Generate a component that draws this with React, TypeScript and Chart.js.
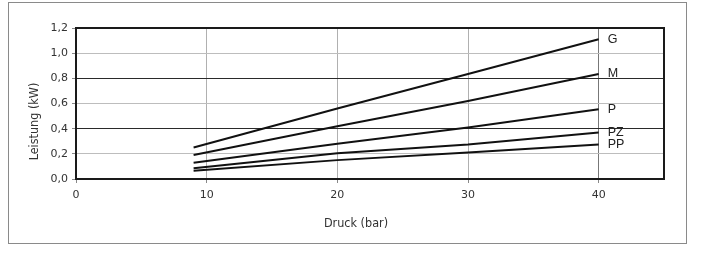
import React, { useEffect, useRef } from "react";
import { Chart, registerables } from "chart.js";

Chart.register(...registerables);

const pressures = [9, 20, 30, 40];
const seriesNames = ["G", "M", "P", "PZ", "PP"];
const seriesG = [0.25, 0.56, 0.835, 1.11];
const seriesM = [0.19, 0.42, 0.62, 0.835];
const seriesP = [0.13, 0.28, 0.41, 0.555];
const seriesPZ = [0.085, 0.205, 0.275, 0.37];
const seriesPP = [0.065, 0.15, 0.21, 0.275];
const xTitle = "Druck (bar)";
const yTitle = "Leistung (kW)";

const tickFont = "'DejaVu Sans', 'Liberation Sans', sans-serif";
const titleFont = "'Liberation Sans Narrow', 'DejaVu Sans Condensed', 'Roboto', sans-serif";

const decorPlugin = {
  id: "decor",
  afterDraw(chart: any) {
    const { ctx, chartArea } = chart;
    const { left, right, top, bottom } = chartArea;
    ctx.save();
    // plot frame
    ctx.strokeStyle = "#1a1a1a";
    ctx.lineWidth = 2;
    ctx.strokeRect(left, top, right - left, bottom - top);
    // series labels
    ctx.fillStyle = "#222";
    ctx.font = "12.5px 'Liberation Sans', Arial, sans-serif";
    ctx.textAlign = "left";
    ctx.textBaseline = "middle";
    chart.data.datasets.forEach((ds: any, i: number) => {
      const meta = chart.getDatasetMeta(i);
      const pt = meta.data[meta.data.length - 1];
      ctx.fillText(ds.label, pt.x + 9, pt.y);
    });
    // axis titles
    ctx.font = "12.5px " + titleFont;
    ctx.fillStyle = "#333";
    ctx.textAlign = "center";
    ctx.fillText(xTitle, (left + right) / 2 - 14, bottom + 45);
    ctx.translate(left - 41, (top + bottom) / 2 + 18);
    ctx.rotate(-Math.PI / 2);
    ctx.fillText(yTitle, 0, 0);
    ctx.restore();
  },
};

export default function App() {
  const ref = useRef<HTMLCanvasElement>(null);
  useEffect(() => {
    const series = [seriesG, seriesM, seriesP, seriesPZ, seriesPP];
    const chart = new Chart(ref.current!, {
      type: "line",
      data: {
        datasets: series.map((vals, i) => ({
          label: seriesNames[i],
          data: pressures.map((x, j) => ({ x, y: vals[j] })),
          borderColor: "#111",
          borderWidth: 2,
          pointRadius: 0,
          tension: 0,
          fill: false,
        })),
      },
      options: {
        responsive: false,
        animation: false,
        layout: { padding: { left: 0, top: 28, right: 37, bottom: 0 } },
        plugins: { legend: { display: false }, tooltip: { enabled: false } },
        scales: {
          x: {
            type: "linear",
            min: 0,
            max: 45,
            afterFit(scale: any) {
              scale.height = 77;
            },
            border: { display: false },
            grid: {
              color: (c: any) => (c.tick && c.tick.value === 40 ? "#777" : "#b0b0b0"),
              lineWidth: 1,
              tickLength: 4,
              tickColor: "#888",
            },
            ticks: {
              stepSize: 10,
              includeBounds: false,
              color: "#333",
              padding: 6,
              font: { family: tickFont, size: 11 },
              maxRotation: 0,
            },
          },
          y: {
            min: 0,
            max: 1.2,
            afterFit(scale: any) {
              scale.width = 76;
            },
            border: { display: false },
            grid: {
              color: (c: any) => {
                const v = c.tick ? Math.round(c.tick.value * 10) : 0;
                return v === 4 || v === 8 ? "#2a2a2a" : "#bdbdbd";
              },
              lineWidth: 1,
              tickLength: 4,
              tickColor: "#888",
            },
            ticks: {
              stepSize: 0.2,
              color: "#333",
              padding: 4,
              font: { family: tickFont, size: 11 },
              callback: (v: any) => Number(v).toFixed(1).replace(".", ","),
            },
          },
        },
      },
      plugins: [decorPlugin],
    });
    return () => chart.destroy();
  }, []);
  return (
    <div style={{ position: "fixed", left: 0, top: 0, width: 701, height: 256, background: "#fff" }}>
      <div
        style={{
          position: "absolute",
          left: 8,
          top: 2,
          width: 679,
          height: 242,
          border: "1px solid #8a8a8a",
          boxSizing: "border-box",
        }}
      />
      <canvas ref={ref} width={701} height={256} style={{ position: "absolute", left: 0, top: 0 }} />
    </div>
  );
}
